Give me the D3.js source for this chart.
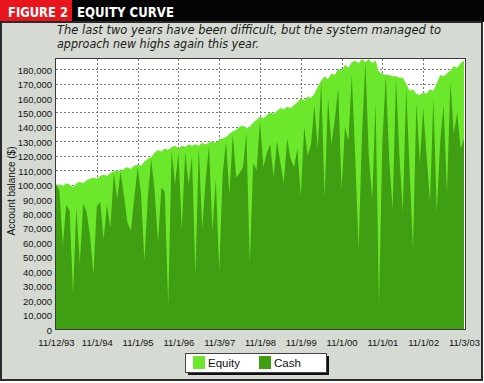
<!DOCTYPE html>
<html>
<head>
<meta charset="utf-8">
<script src="https://cdn.jsdelivr.net/npm/d3@7"></script>
<style>
  body { margin: 0; background: #fff; }
  svg { display: block; font-family: "Liberation Sans", Arial, sans-serif; }
</style>
</head>
<body>
<svg id="chart" width="484" height="383"></svg>
<script>
// x tick labels, one per year (month index 0, 12, 24 ... 120)
const DATE_LABELS = ['11/12/93', '11/1/94', '11/1/95', '11/1/96', '11/3/97',
  '11/1/98', '11/1/99', '11/1/00', '11/1/01', '11/1/02', '11/3/03'];

// monthly account balance, thousands of $
const EQUITY = [
  100, 100, 99, 101, 100, 98, 101, 102, 101, 103, 104, 105,
  104, 106, 107, 106, 108, 109, 110, 109, 111, 112, 111, 113,
  114, 113, 116, 118, 119, 122, 124, 123, 125, 124, 126, 127,
  125, 127, 126, 128, 127, 128, 127, 129, 128, 129, 130, 129,
  131, 132, 133, 135, 137, 138, 140, 141, 139, 140, 143, 145,
  147, 146, 148, 150, 149, 151, 153, 152, 154, 153, 155, 157,
  160, 158, 161, 160, 163, 168, 172, 175, 173, 177, 176, 180,
  179, 183, 181, 185, 186, 184, 187, 185, 187, 184, 186, 178,
  177, 176, 176, 175, 175, 174, 174, 170, 165, 166, 163, 162,
  164, 163, 166, 165, 170, 176, 175, 177, 179, 182, 181, 184,
  186
];

const CASH = [
  100, 96, 58, 86, 82, 25, 84, 45, 87, 81, 65, 38,
  85, 88, 62, 86, 70, 108, 90, 109, 92, 74, 68, 90,
  112, 94, 47, 91, 118, 96, 60, 98, 95, 17, 124, 100,
  122, 69, 123, 100, 120, 37, 126, 69, 103, 127, 68, 104,
  40, 107, 130, 93, 135, 105, 108, 112, 136, 45, 115, 110,
  144, 112, 122, 128, 105, 130, 115, 101, 132, 118, 112, 125,
  92, 140, 120, 128, 155, 125, 171, 91, 160, 128, 145, 167,
  97, 140, 130, 176, 120, 55, 135, 185, 120, 90, 157, 17,
  130, 176, 118, 83, 174, 120, 81, 167, 110, 56, 157, 115,
  153, 120, 88, 160, 81, 130, 155, 94, 171, 135, 150, 125,
  132
];

const SERIES = ['Equity', 'Cash'];
const COLORS = { Equity: '#6ce82c', Cash: '#3f9e12' };

const svg = d3.select('#chart');

// title bar
svg.append('rect').attr('x', 0).attr('y', 0).attr('width', 484).attr('height', 22).attr('fill', '#050505');
svg.append('rect').attr('x', 0).attr('y', 0).attr('width', 72).attr('height', 22).attr('fill', '#e8151c');
svg.append('text').attr('x', 8).attr('y', 17)
  .attr('fill', '#fff').attr('font-weight', 'bold').attr('font-size', 14)
  .attr('font-family', '"DejaVu Sans", sans-serif')
  .attr('textLength', 60).attr('lengthAdjust', 'spacingAndGlyphs')
  .text('FIGURE 2');
svg.append('text').attr('x', 77).attr('y', 17)
  .attr('fill', '#fff').attr('font-weight', 'bold').attr('font-size', 14)
  .attr('font-family', '"DejaVu Sans", sans-serif')
  .attr('textLength', 97).attr('lengthAdjust', 'spacingAndGlyphs')
  .text('EQUITY CURVE');

// panel
svg.append('rect').attr('x', 1).attr('y', 22).attr('width', 481).attr('height', 358)
  .attr('fill', '#d5dbd3').attr('stroke', '#2a2a2a').attr('stroke-width', 2);

// subtitle
const sub = svg.append('g')
  .attr('font-style', 'italic').attr('font-size', 12.5).attr('fill', '#1a1a1a')
  .attr('font-family', '"DejaVu Sans", sans-serif');
sub.append('text').attr('x', 57).attr('y', 34)
  .attr('textLength', 384).attr('lengthAdjust', 'spacingAndGlyphs')
  .text('The last two years have been difficult, but the system managed to');
sub.append('text').attr('x', 57).attr('y', 48)
  .attr('textLength', 202).attr('lengthAdjust', 'spacingAndGlyphs')
  .text('approach new highs again this year.');

// plot area
const plotLeft = 56, plotRight = 464, plotTop = 59, plotBottom = 329;

const x = d3.scaleLinear().domain([0, EQUITY.length - 1]).range([plotLeft, plotRight]);
const y = d3.scaleLinear().domain([0, 187]).range([plotBottom, plotTop]);

svg.append('rect').attr('x', plotLeft).attr('y', plotTop)
  .attr('width', plotRight - plotLeft + 1).attr('height', plotBottom - plotTop)
  .attr('fill', '#fff');

const yTicks = d3.range(0, 181, 10);
const xTicks = d3.range(0, EQUITY.length, 12);

// gridlines
svg.append('g').selectAll('line').data(yTicks.filter(d => d > 0)).join('line')
  .attr('x1', plotLeft).attr('x2', plotRight)
  .attr('y1', d => Math.round(y(d)) + 0.5).attr('y2', d => Math.round(y(d)) + 0.5)
  .attr('stroke', '#7a7a7a').attr('stroke-dasharray', '2,2');
svg.append('g').selectAll('line').data(xTicks.slice(1, -1)).join('line')
  .attr('x1', d => Math.round(x(d)) + 0.5).attr('x2', d => Math.round(x(d)) + 0.5)
  .attr('y1', plotTop).attr('y2', plotBottom)
  .attr('stroke', '#7a7a7a').attr('stroke-dasharray', '2,2');

// areas
const areaFor = arr => d3.area()
  .x((d, i) => x(i))
  .y0(y(0))
  .y1(d => y(d))(arr);

svg.append('path').attr('d', areaFor(EQUITY)).attr('fill', COLORS.Equity);
svg.append('path').attr('d', areaFor(CASH)).attr('fill', COLORS.Cash);

// frame
svg.append('rect').attr('x', plotLeft - 0.5).attr('y', plotTop - 0.5)
  .attr('width', plotRight - plotLeft + 2).attr('height', plotBottom - plotTop + 1)
  .attr('fill', 'none').attr('stroke', '#3a3a3a').attr('stroke-width', 1);

// y axis
const yAxis = d3.axisLeft(y).tickValues(yTicks).tickSize(0).tickPadding(4)
  .tickFormat(d => d3.format(',')(d * 1000));
svg.append('g').attr('transform', `translate(${plotLeft},1)`).call(yAxis)
  .call(g => g.select('.domain').remove())
  .selectAll('text').attr('font-size', 9.5).attr('fill', '#111')
  .attr('font-family', '"Liberation Sans", Arial, sans-serif');

// x axis
const xAxis = d3.axisBottom(x).tickValues(xTicks).tickSize(0).tickPadding(10)
  .tickFormat((d, i) => DATE_LABELS[i]);
svg.append('g').attr('transform', `translate(0,${plotBottom})`).call(xAxis)
  .call(g => g.select('.domain').remove())
  .selectAll('text').attr('font-size', 9.5).attr('fill', '#111')
  .attr('font-family', '"Liberation Sans", Arial, sans-serif');

// y axis title
svg.append('text')
  .attr('transform', 'translate(15,191) rotate(-90)')
  .attr('text-anchor', 'middle').attr('font-size', 10).attr('fill', '#111')
  .text('Account balance ($)');

// legend
const lg = svg.append('g').attr('transform', 'translate(185,353)');
lg.append('rect').attr('x', 3).attr('y', 3).attr('width', 141).attr('height', 19).attr('fill', '#111');
lg.append('rect').attr('x', 0.5).attr('y', 0.5).attr('width', 141).attr('height', 19)
  .attr('fill', '#fff').attr('stroke', '#444');
const items = lg.selectAll('g.item').data(SERIES).join('g')
  .attr('class', 'item')
  .attr('transform', (d, i) => `translate(${8 + i * 66},3)`);
items.append('rect').attr('width', 12).attr('height', 13).attr('fill', d => COLORS[d]);
items.append('text').attr('x', 15).attr('y', 11)
  .attr('font-size', 11.5).attr('fill', '#111').text(d => d);
</script>
</body>
</html>
